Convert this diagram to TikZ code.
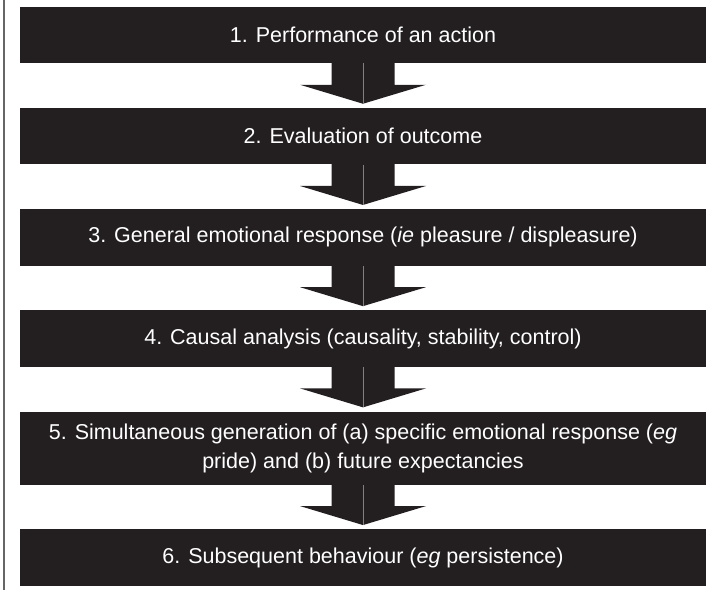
\documentclass[tikz,border=0pt]{standalone}
\usepackage{fontspec}
\setmainfont{Liberation Sans}
\usetikzlibrary{positioning, calc}
\definecolor{boxblack}{HTML}{231F20}
\tikzset{
    stage/.style={fill=boxblack, text=white, minimum width=686pt, minimum height=56.5pt,
        inner sep=0pt, align=center, font=\fontsize{21.5}{29}\selectfont},
    downarrow/.style={fill=boxblack},
    midline/.style={draw=black!50, line width=0.7pt}
}

\begin{document}
\begin{tikzpicture}[x=1pt, y=1pt, node distance=44.3pt]
    \def \shaft {31.5}
    \def \head {63}
    \def \hlen {19}
    \useasboundingbox (0,0) rectangle (710,-590);
    % rule down the left margin
    \draw[black!60, line width=1.5pt] (4,0) -- (4,-590);
    \node[stage] (s1) at (363,-35) {1. Performance of an action};
    \node[stage, below=of s1] (s2) {2. Evaluation of outcome};
    \node[stage, below=of s2] (s3) {3. General emotional response (\textit{ie} pleasure / displeasure)};
    \node[stage, below=of s3] (s4) {4. Causal analysis (causality, stability, control)};
    \node[stage, below=of s4, minimum height=73pt] (s5) {5. Simultaneous generation of (a) specific emotional response (\textit{eg}\\ pride) and (b) future expectancies};
    \node[stage, below=of s5] (s6) {6. Subsequent behaviour (\textit{eg} persistence)};
    % block arrows between the stages
    \foreach \a/\b in {s1/s2, s2/s3, s3/s4, s4/s5, s5/s6}{
        \coordinate (tip) at ($(\b.north)+(0,4)$);
        \fill[downarrow] ($(\a.south)+(-\shaft,0.5)$) -- ($(tip)+(-\shaft,\hlen)$) -- ($(tip)+(-\head,\hlen)$)
            -- (tip) -- ($(tip)+(\head,\hlen)$) -- ($(tip)+(\shaft,\hlen)$) -- ($(\a.south)+(\shaft,0.5)$) -- cycle;
        \draw[midline] (\a.south) -- (tip);
    }
\end{tikzpicture}
\end{document}
